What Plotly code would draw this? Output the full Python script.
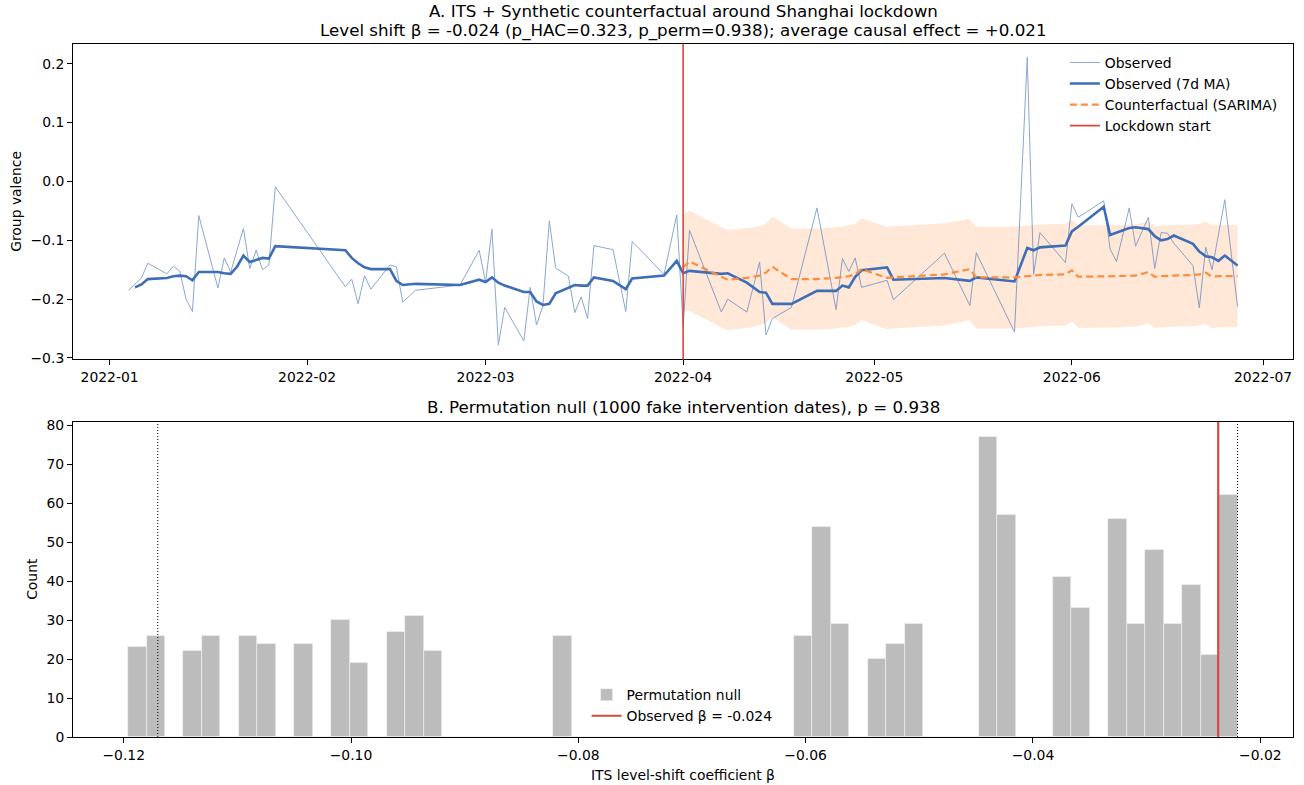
import plotly.graph_objects as go
import pandas as pd

# ---------------- Panel A data ----------------
obs_dates = [
    "2022-01-04", "2022-01-05", "2022-01-06", "2022-01-07", "2022-01-10", "2022-01-11", "2022-01-12",
    "2022-01-13", "2022-01-14", "2022-01-15", "2022-01-18", "2022-01-19", "2022-01-20", "2022-01-21",
    "2022-01-22", "2022-01-23", "2022-01-24", "2022-01-25", "2022-01-26", "2022-01-27",
    "2022-02-07", "2022-02-08", "2022-02-09", "2022-02-10", "2022-02-11", "2022-02-14", "2022-02-15",
    "2022-02-16", "2022-02-18", "2022-02-25", "2022-02-28",
    "2022-03-01", "2022-03-02", "2022-03-03", "2022-03-04", "2022-03-07", "2022-03-08", "2022-03-09",
    "2022-03-10", "2022-03-11", "2022-03-12", "2022-03-14", "2022-03-15", "2022-03-16", "2022-03-17",
    "2022-03-18", "2022-03-21", "2022-03-23", "2022-03-24", "2022-03-29", "2022-03-31",
    "2022-04-01", "2022-04-02", "2022-04-07", "2022-04-08", "2022-04-11", "2022-04-13", "2022-04-14",
    "2022-04-15", "2022-04-18", "2022-04-22", "2022-04-25", "2022-04-26", "2022-04-27", "2022-04-28",
    "2022-04-29", "2022-05-03", "2022-05-04", "2022-05-12", "2022-05-16", "2022-05-17", "2022-05-23",
    "2022-05-25", "2022-05-26", "2022-05-27", "2022-05-31",
    "2022-06-01", "2022-06-02", "2022-06-06", "2022-06-07", "2022-06-08", "2022-06-10", "2022-06-11",
    "2022-06-13", "2022-06-14", "2022-06-15", "2022-06-16", "2022-06-17", "2022-06-20", "2022-06-21",
    "2022-06-22", "2022-06-23", "2022-06-24", "2022-06-25", "2022-06-27",
]
obs_values = [
    -0.185, -0.175, -0.164, -0.139, -0.157, -0.144, -0.152,
    -0.200, -0.221, -0.058, -0.181, -0.130, -0.154, -0.117,
    -0.080, -0.148, -0.117, -0.150, -0.142, -0.009,
    -0.179, -0.166, -0.208, -0.160, -0.183, -0.142, -0.145,
    -0.205, -0.185, -0.176, -0.117,
    -0.172, -0.081, -0.278, -0.214, -0.271, -0.180, -0.244,
    -0.211, -0.067, -0.147, -0.161, -0.223, -0.196, -0.233,
    -0.109, -0.116, -0.221, -0.102, -0.158, -0.057,
    -0.247, -0.083, -0.222, -0.200, -0.222, -0.137, -0.261,
    -0.233, -0.214, -0.045, -0.218, -0.131, -0.153, -0.130,
    -0.180, -0.168, -0.201, -0.122, -0.211, -0.121, -0.256,
    0.211, -0.158, -0.087, -0.138,
    -0.038, -0.061, -0.033, -0.115, -0.136, -0.045, -0.110,
    -0.061, -0.148, -0.087, -0.088, -0.105, -0.143, -0.215,
    -0.112, -0.150, -0.091, -0.031, -0.213,
]
ma_values = [
    -0.180, -0.175, -0.166, -0.164, -0.161, -0.160,
    -0.161, -0.168, -0.154, -0.154, -0.156, -0.157, -0.145,
    -0.126, -0.137, -0.134, -0.130, -0.131, -0.110,
    -0.117, -0.130, -0.139, -0.146, -0.149, -0.149, -0.169,
    -0.176, -0.174, -0.176, -0.167,
    -0.171, -0.163, -0.172, -0.177, -0.188, -0.188, -0.204,
    -0.210, -0.208, -0.190, -0.181, -0.176, -0.177, -0.177,
    -0.163, -0.169, -0.183, -0.165, -0.160, -0.135,
    -0.156, -0.152, -0.157, -0.156, -0.172, -0.188, -0.189,
    -0.208, -0.208, -0.186, -0.186, -0.177, -0.180, -0.162,
    -0.151, -0.146, -0.167, -0.164, -0.169, -0.163, -0.170,
    -0.113, -0.117, -0.112, -0.109,
    -0.085, -0.077, -0.043, -0.091, -0.087, -0.079, -0.078,
    -0.081, -0.093, -0.100, -0.098, -0.092, -0.106, -0.119,
    -0.127, -0.129, -0.135, -0.126, -0.143,
]
cf_dates = [
    "2022-04-01", "2022-04-02", "2022-04-07", "2022-04-08", "2022-04-11", "2022-04-13", "2022-04-14",
    "2022-04-15", "2022-04-18", "2022-04-22", "2022-04-25", "2022-04-26", "2022-04-27", "2022-04-28",
    "2022-04-29", "2022-05-03", "2022-05-04", "2022-05-12", "2022-05-16", "2022-05-17", "2022-05-23",
    "2022-05-25", "2022-05-26", "2022-05-27", "2022-05-31",
    "2022-06-01", "2022-06-02", "2022-06-06", "2022-06-07", "2022-06-08", "2022-06-10", "2022-06-11",
    "2022-06-13", "2022-06-14", "2022-06-15", "2022-06-16", "2022-06-17", "2022-06-20", "2022-06-21",
    "2022-06-22", "2022-06-23", "2022-06-24", "2022-06-25", "2022-06-27",
]
cf_values = [
    -0.146, -0.136, -0.162, -0.167, -0.164, -0.160, -0.155,
    -0.145, -0.166, -0.166, -0.164, -0.163, -0.161, -0.158,
    -0.149, -0.164, -0.163, -0.158, -0.149, -0.163, -0.163,
    -0.161, -0.160, -0.159, -0.158,
    -0.151, -0.162, -0.162, -0.161, -0.161, -0.160, -0.160,
    -0.154, -0.162, -0.161, -0.161, -0.160, -0.159, -0.158,
    -0.155, -0.162, -0.161, -0.161, -0.161,
]
cf_upper = [
    -0.056, -0.050, -0.078, -0.083, -0.079, -0.076, -0.072,
    -0.060, -0.080, -0.080, -0.078, -0.077, -0.074, -0.072,
    -0.063, -0.077, -0.076, -0.071, -0.064, -0.077, -0.077,
    -0.075, -0.074, -0.073, -0.072,
    -0.065, -0.075, -0.075, -0.074, -0.074, -0.073, -0.073,
    -0.068, -0.076, -0.075, -0.075, -0.074, -0.073, -0.072,
    -0.068, -0.075, -0.074, -0.074, -0.074,
]
cf_lower = [
    -0.222, -0.220, -0.248, -0.253, -0.249, -0.245, -0.240,
    -0.231, -0.252, -0.252, -0.250, -0.249, -0.247, -0.244,
    -0.236, -0.251, -0.250, -0.245, -0.236, -0.250, -0.250,
    -0.248, -0.247, -0.246, -0.245,
    -0.238, -0.249, -0.249, -0.248, -0.248, -0.247, -0.247,
    -0.241, -0.249, -0.248, -0.248, -0.247, -0.246, -0.245,
    -0.242, -0.249, -0.248, -0.248, -0.247,
]
LOCKDOWN_DATE = "2022-04-01"
title_a = ["A. ITS + Synthetic counterfactual around Shanghai lockdown",
           "Level shift \u03b2 = -0.024 (p_HAC=0.323, p_perm=0.938); average causal effect = +0.021"]
ya_ticks = [0.2, 0.1, 0.0, -0.1, -0.2, -0.3]
ya_labels = ["0.2", "0.1", "0.0", "\u22120.1", "\u22120.2", "\u22120.3"]

# ---------------- Panel B data ----------------
null_counts = [
    23, 26, 0, 22, 26, 0, 26, 24, 0, 24,
    0, 30, 19, 0, 27, 31, 22, 0, 0, 0,
    0, 0, 0, 26, 0, 0, 0, 0, 0, 0,
    0, 0, 0, 0, 0, 0, 26, 54, 29, 0,
    20, 24, 29, 0, 0, 0, 77, 57, 0, 0,
    41, 33, 0, 56, 29, 48, 29, 39, 21, 62,
]
BIN_START = -0.11962
BIN_WIDTH = 0.001627
OBS_BETA = -0.0237
NULL_BOUNDS = [-0.1170, -0.0220]
title_b = "B. Permutation null (1000 fake intervention dates), p = 0.938"
xb_ticks = [-0.12, -0.10, -0.08, -0.06, -0.04, -0.02]
xb_labels = ["\u22120.12", "\u22120.10", "\u22120.08", "\u22120.06", "\u22120.04", "\u22120.02"]
yb_ticks = [0, 10, 20, 30, 40, 50, 60, 70, 80]

assert len(obs_dates) == len(obs_values) == len(ma_values) + 1
assert len(cf_dates) == len(cf_values) == len(cf_upper) == len(cf_lower)

# ---------------- styles ----------------
FONT = "DejaVu Sans"
FS = 13.9
FS_TITLE = 16.7
C_OBS = "#3d6eb7"
C_ORANGE = "#fd8d3c"
C_BAND = "rgba(253,141,60,0.2)"
C_RED = "#d6483f"
C_HIST = "#bcbcbc"

fig = go.Figure()

# band
fig.add_trace(go.Scatter(x=cf_dates, y=cf_upper, mode="lines", line=dict(width=0),
                         showlegend=False, hoverinfo="skip", xaxis="x", yaxis="y"))
fig.add_trace(go.Scatter(x=cf_dates, y=cf_lower, mode="lines", line=dict(width=0),
                         fill="tonexty", fillcolor=C_BAND,
                         showlegend=False, hoverinfo="skip", xaxis="x", yaxis="y"))
fig.add_trace(go.Scatter(x=obs_dates, y=obs_values, mode="lines", name="Observed",
                         line=dict(color=C_OBS, width=1), opacity=0.6,
                         xaxis="x", yaxis="y", legend="legend"))
fig.add_trace(go.Scatter(x=obs_dates[1:], y=ma_values, mode="lines", name="Observed (7d MA)",
                         line=dict(color=C_OBS, width=2.6),
                         xaxis="x", yaxis="y", legend="legend"))
fig.add_trace(go.Scatter(x=cf_dates, y=cf_values, mode="lines", name="Counterfactual (SARIMA)",
                         line=dict(color=C_ORANGE, width=2.2, dash="7px,4px"),
                         xaxis="x", yaxis="y", legend="legend"))
fig.add_trace(go.Scatter(x=[None], y=[None], mode="lines", name="Lockdown start",
                         line=dict(color=C_RED, width=1.6),
                         xaxis="x", yaxis="y", legend="legend"))

# histogram (pre-binned counts)
centers = [BIN_START + (i + 0.5) * BIN_WIDTH for i in range(len(null_counts))]
fig.add_trace(go.Bar(x=centers, y=null_counts, width=BIN_WIDTH, name="Permutation null",
                     marker=dict(color=C_HIST, line=dict(color="#f2f2f2", width=0.6)),
                     xaxis="x2", yaxis="y2", legend="legend2"))
fig.add_trace(go.Scatter(x=[None], y=[None], mode="lines",
                         name="Observed \u03b2 = %.3f" % round(OBS_BETA, 3),
                         line=dict(color=C_RED, width=2.2),
                         xaxis="x2", yaxis="y2", legend="legend2"))

# vertical lines
fig.add_shape(type="line", xref="x", yref="y domain", x0=LOCKDOWN_DATE, x1=LOCKDOWN_DATE,
              y0=0, y1=1, line=dict(color=C_RED, width=1.6))
fig.add_shape(type="line", xref="x2", yref="y2 domain", x0=OBS_BETA, x1=OBS_BETA,
              y0=0, y1=1, line=dict(color=C_RED, width=2.2))
for b in NULL_BOUNDS:
    fig.add_shape(type="line", xref="x2", yref="y2 domain", x0=b, x1=b, y0=0, y1=1,
                  line=dict(color="black", width=1, dash="1px,2px"))

base = pd.Timestamp("2022-01-01")
xa_range = [str(base + pd.Timedelta(hours=-5.74 * 24)), str(base + pd.Timedelta(hours=185.7 * 24))]

axis_common = dict(showline=True, linecolor="black", linewidth=1, mirror=True,
                   ticks="outside", ticklen=5, tickwidth=1, tickcolor="black",
                   showgrid=False, zeroline=False,
                   tickfont=dict(family=FONT, size=FS, color="black"))

fig.update_layout(
    width=1304, height=785,
    margin=dict(l=73, r=11, t=44, b=48),
    paper_bgcolor="white", plot_bgcolor="white",
    font=dict(family=FONT, size=FS, color="black"),
    xaxis=dict(domain=[0, 1], anchor="y", type="date", range=xa_range,
               tickformat="%Y-%m", dtick="M1", tick0="2022-01-01", **axis_common),
    yaxis=dict(domain=[0.5448, 1], anchor="x", range=[-0.3025, 0.2335],
               tickvals=ya_ticks, ticktext=ya_labels, **axis_common),
    xaxis2=dict(domain=[0, 1], anchor="y2", range=[-0.12446, -0.01712],
                tickvals=xb_ticks, ticktext=xb_labels, **axis_common),
    yaxis2=dict(domain=[0, 0.4547], anchor="x2", range=[0, 80.85],
                tickvals=yb_ticks, **axis_common),
    bargap=0,
    legend=dict(x=0.813, y=0.9958, xanchor="left", yanchor="top", bgcolor="rgba(255,255,255,0)",
                borderwidth=0, font=dict(family=FONT, size=FS), tracegroupgap=0,
                traceorder="normal"),
    legend2=dict(x=0.421, y=0.0835, xanchor="left", yanchor="top", bgcolor="rgba(255,255,255,0)",
                 borderwidth=0, font=dict(family=FONT, size=FS), traceorder="normal"),
    annotations=[
        dict(text=title_a[0], x=0.5, y=1.0476, xref="paper", yref="paper", showarrow=False,
             xanchor="center", yanchor="middle", font=dict(family=FONT, size=FS_TITLE)),
        dict(text=title_a[1], x=0.5, y=1.0202, xref="paper", yref="paper", showarrow=False,
             xanchor="center", yanchor="middle", font=dict(family=FONT, size=FS_TITLE)),
        dict(text=title_b, x=0.5, y=0.4760, xref="paper", yref="paper", showarrow=False,
             xanchor="center", yanchor="middle", font=dict(family=FONT, size=FS_TITLE)),
        dict(text="Group valence", x=-0.0467, y=0.7723, xref="paper", yref="paper",
             showarrow=False, textangle=-90, xanchor="center", yanchor="middle",
             font=dict(family=FONT, size=FS)),
        dict(text="Count", x=-0.0336, y=0.2282, xref="paper", yref="paper",
             showarrow=False, textangle=-90, xanchor="center", yanchor="middle",
             font=dict(family=FONT, size=FS)),
        dict(text="ITS level-shift coefficient \u03b2", x=0.5, y=-0.0553, xref="paper", yref="paper",
             showarrow=False, xanchor="center", yanchor="middle", font=dict(family=FONT, size=FS)),
    ],
)

fig.write_html("out.html")
